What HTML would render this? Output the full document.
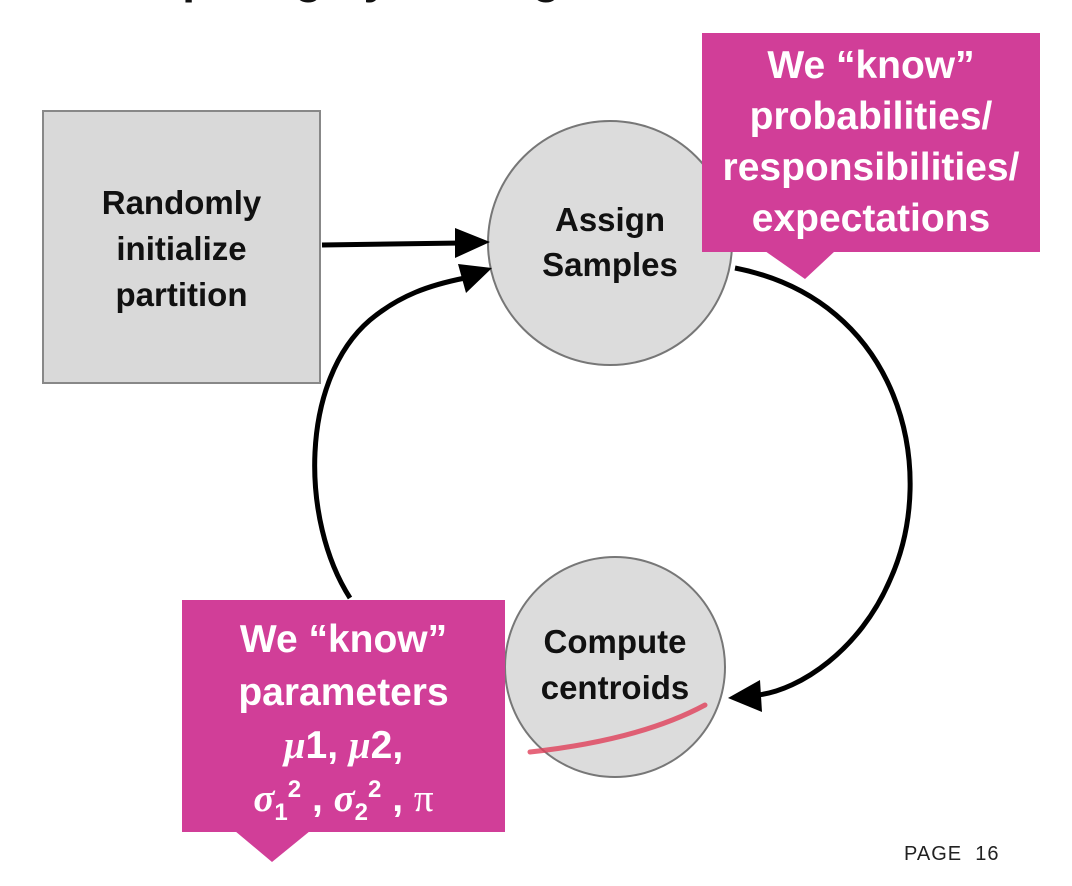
<!DOCTYPE html>
<html><head><meta charset="utf-8"><style>
body{margin:0;width:1072px;height:886px;background:#fff;position:relative;overflow:hidden;font-family:"Liberation Sans",sans-serif}
.t{position:absolute;text-align:center;font-weight:bold}
sub,sup{line-height:0}
</style></head><body>
<div class="t" style="left:80px;top:-50px;font-size:46px;color:#111;white-space:nowrap">Computing by Making</div>
<svg width="1072" height="886" style="position:absolute;left:0;top:0">
<rect x="43" y="111" width="277" height="272" fill="#d9d9d9" stroke="#888" stroke-width="2"/>
<circle cx="610" cy="243" r="122" fill="#dcdcdc" stroke="#777" stroke-width="2"/>
<circle cx="615" cy="667" r="110" fill="#dcdcdc" stroke="#777" stroke-width="2"/>
<path d="M530,752 Q640,740 705,705" stroke="#e0405a" stroke-width="5" fill="none" stroke-linecap="round" opacity="0.8"/>
<line x1="322" y1="245" x2="462" y2="243" stroke="#000" stroke-width="5"/>
<polygon points="490,242 455,228 455,258" fill="#000"/>
<path d="M735,268 C900,300 940,470 890,580 C860,650 800,690 758,695" stroke="#000" stroke-width="5" fill="none"/>
<polygon points="728,698 760,680 762,712" fill="#000"/>
<path d="M350,598 C300,520 300,380 370,320 C400,295 430,285 465,278" stroke="#000" stroke-width="5" fill="none"/>
<polygon points="492,268 458,264 466,293" fill="#000"/>
<rect x="702" y="33" width="338" height="219" fill="#d13e98"/>
<polygon points="765,251 835,251 805,279" fill="#d13e98"/>
<rect x="182" y="600" width="323" height="232" fill="#d13e98"/>
<polygon points="235,831 310,831 272,862" fill="#d13e98"/>
</svg>
<div class="t" style="left:43px;top:180px;width:277px;font-size:33px;line-height:46px;color:#111">Randomly<br>initialize<br>partition</div>
<div class="t" style="left:488px;top:197px;width:244px;font-size:33px;line-height:45px;color:#111">Assign<br>Samples</div>
<div class="t" style="left:505px;top:619px;width:220px;font-size:33px;line-height:46px;color:#111">Compute<br>centroids</div>
<div class="t" style="left:702px;top:40px;width:338px;font-size:39px;line-height:51px;color:#fff">We “know”<br>probabilities/<br>responsibilities/<br>expectations</div>
<div class="t" style="left:182px;top:613px;width:323px;font-size:39px;line-height:53px;color:#fff">We “know”<br>parameters<br><i style="font-family:'Liberation Serif',serif">μ</i>1, <i style="font-family:'Liberation Serif',serif">μ</i>2,<br><i style="font-family:'Liberation Serif',serif">σ</i><sub style="font-size:24px">1</sub><sup style="font-size:24px">2</sup> , <i style="font-family:'Liberation Serif',serif">σ</i><sub style="font-size:24px">2</sub><sup style="font-size:24px">2</sup> , <span style="font-family:'Liberation Serif',serif;font-weight:normal">π</span></div>
<div style="position:absolute;left:904px;top:843px;font-size:20px;color:#222;letter-spacing:1px">PAGE&nbsp; 16</div>
</body></html>
